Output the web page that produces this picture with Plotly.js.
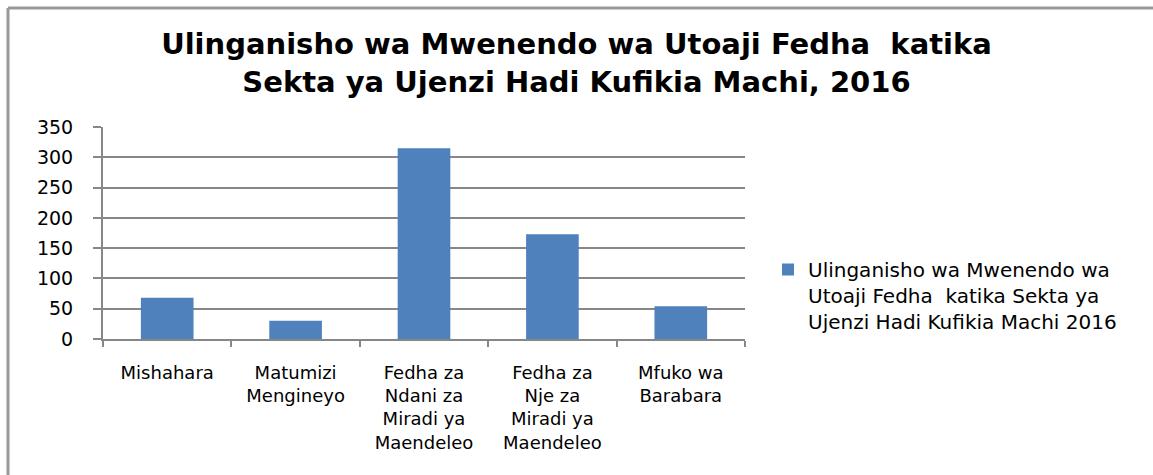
<!DOCTYPE html>
<html>
<head>
<meta charset="utf-8">
<script src="https://cdn.plot.ly/plotly-3.0.1.min.js"></script>
<style>html,body{margin:0;padding:0;background:#fff;}#chart{width:1153px;height:475px;}</style>
</head>
<body>
<div id="chart"></div>
<script>
var categories = ["Mishahara", "Matumizi<br>Mengineyo", "Fedha za<br>Ndani za<br>Miradi ya<br>Maendeleo", "Fedha za<br>Nje za<br>Miradi ya<br>Maendeleo", "Mfuko wa<br>Barabara"];
var values = [68, 30, 315, 173, 54];
var seriesName = "Ulinganisho wa Mwenendo wa<br>Utoaji Fedha  katika Sekta ya<br>Ujenzi Hadi Kufikia Machi 2016";
var yTicks = [0, 50, 100, 150, 200, 250, 300, 350];
var chartTitle = "Ulinganisho wa Mwenendo wa Utoaji Fedha  katika<br>Sekta ya Ujenzi Hadi Kufikia Machi, 2016";

var W = 1153, H = 475;
var M = {l: 103, r: 408, t: 127, b: 136};
var pw = W - M.l - M.r, ph = H - M.t - M.b;
function px2x(px){ return (px - M.l) / pw; }
function py2y(py){ return (H - M.b - py) / ph; }

var font = "DejaVu Sans, Verdana, sans-serif";
var grey = "#878787";

var trace = {
  type: "bar",
  x: categories,
  y: values,
  name: seriesName,
  marker: {color: "#4F81BD", line: {width: 0}},
  width: 0.41,
  showlegend: true,
  hoverinfo: "x+y"
};

var layout = {
  width: W, height: H,
  margin: M,
  paper_bgcolor: "#ffffff",
  plot_bgcolor: "#ffffff",
  font: {family: font, size: 17, color: "#000000"},
  title: {
    text: chartTitle,
    font: {family: font, size: 29, color: "#000000", weight: "bold"},
    x: 0.5, xanchor: "center", xref: "container",
    y: 1 - 54 / H, yanchor: "top", yref: "container"
  },
  showlegend: true,
  legend: {
    x: px2x(768), xanchor: "left",
    y: py2y(250), yanchor: "top",
    valign: "top",
    font: {family: font, size: 20, color: "#000000"},
    bgcolor: "rgba(0,0,0,0)",
    itemclick: false
  },
  xaxis: {
    type: "category",
    showgrid: false,
    showline: true, linecolor: grey, linewidth: 2,
    ticks: "outside", tickson: "boundaries", ticklen: 6, tickwidth: 2, tickcolor: grey,
    tickfont: {family: font, size: 18, color: "#000000"},
    ticklabelstandoff: 16,
    zeroline: false,
    fixedrange: true
  },
  yaxis: {
    range: [0, 350],
    tickvals: yTicks,
    ticktext: yTicks.map(String),
    showgrid: true, gridcolor: grey, gridwidth: 2,
    showline: true, linecolor: grey, linewidth: 2,
    ticks: "outside", ticklen: 8, tickwidth: 2, tickcolor: grey,
    tickfont: {family: font, size: 19, color: "#000000"},
    ticklabelstandoff: 16,
    zeroline: false,
    fixedrange: true
  },
  shapes: [
    {type: "line", xref: "paper", yref: "paper", x0: px2x(8), x1: px2x(W + 5), y0: py2y(8), y1: py2y(8), line: {color: "#999999", width: 3}},
    {type: "line", xref: "paper", yref: "paper", x0: px2x(8), x1: px2x(8), y0: py2y(8), y1: py2y(H + 5), line: {color: "#999999", width: 3}}
  ]
};

Plotly.newPlot("chart", [trace], layout, {displayModeBar: false, staticPlot: true});
</script>
</body>
</html>
